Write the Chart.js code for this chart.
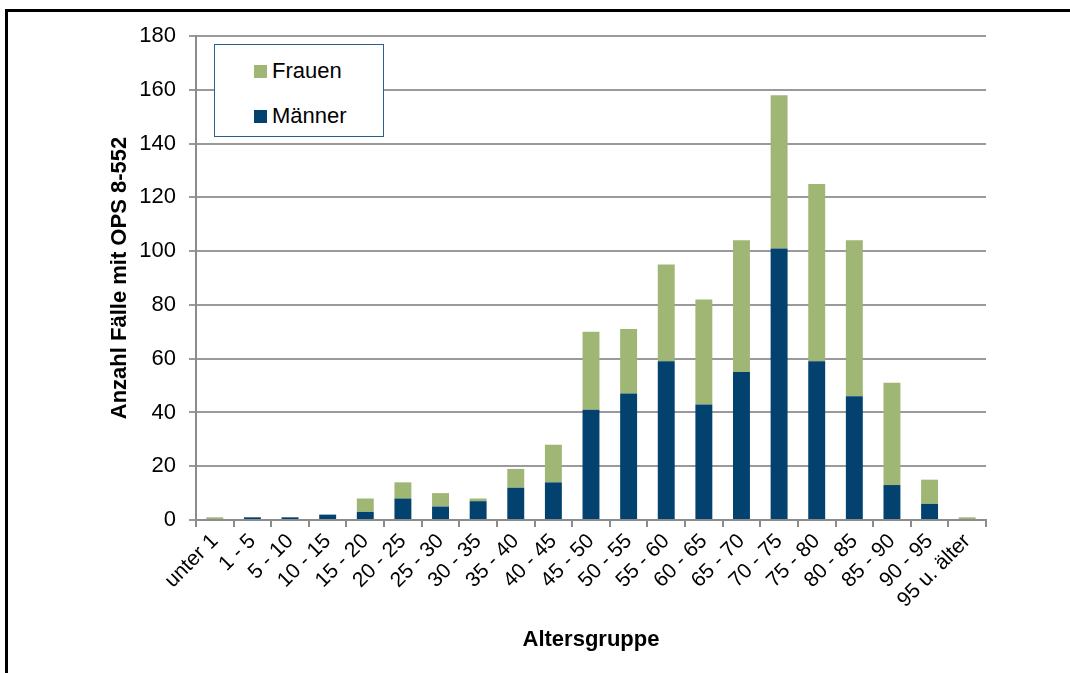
<!DOCTYPE html>
<html>
<head>
<meta charset="utf-8">
<script src="https://cdn.jsdelivr.net/npm/chart.js@4/dist/chart.umd.min.js"></script>
<style>
  html, body { margin: 0; padding: 0; background: #fff; }
  #wrap { position: relative; width: 1070px; height: 673px; overflow: hidden; }
  #frame { position: absolute; left: 5px; top: 9px; width: 2000px; height: 2000px;
           border-left: 3px solid #000; border-top: 3px solid #000; }
  #chart { position: absolute; left: 0; top: 0; }
  #legend { position: absolute; left: 214px; top: 44px; width: 168px; height: 91px;
            border: 1.5px solid #2b5f92; background: #fff;
            font-family: "Liberation Sans", Arial, sans-serif; font-size: 22px; color: #000; }
  .item { position: absolute; left: 39px; display: flex; align-items: center; height: 24px; }
  .swatch { width: 13px; height: 13px; margin-right: 5px; }
</style>
</head>
<body>
<div id="wrap">
  <div id="frame"></div>
  <canvas id="chart" width="1070" height="673"></canvas>
  <div id="legend"></div>
</div>
<script>
const ageGroups = ['unter 1', '1 - 5', '5 - 10', '10 - 15', '15 - 20', '20 - 25', '25 - 30',
  '30 - 35', '35 - 40', '40 - 45', '45 - 50', '50 - 55', '55 - 60', '60 - 65', '65 - 70',
  '70 - 75', '75 - 80', '80 - 85', '85 - 90', '90 - 95', '95 u. älter'];
const maenner = [0, 1, 1, 2, 3, 8, 5, 7, 12, 14, 41, 47, 59, 43, 55, 101, 59, 46, 13, 6, 0];
const frauen  = [1, 0, 0, 0, 5, 6, 5, 1, 7, 14, 29, 24, 36, 39, 49, 57, 66, 58, 38, 9, 1];

const FONT = '"Liberation Sans", Arial, sans-serif';
const axisGray = '#8c8c8c';

const ctx = document.getElementById('chart').getContext('2d');
const chart = new Chart(ctx, {
  type: 'bar',
  data: {
    labels: ageGroups,
    datasets: [
      { label: 'Männer', data: maenner, backgroundColor: '#03416f' },
      { label: 'Frauen', data: frauen, backgroundColor: '#9fb674' }
    ]
  },
  options: {
    responsive: false,
    animation: false,
    devicePixelRatio: 1,
    layout: { padding: { left: 0, right: 84, top: 36, bottom: 0 } },
    datasets: { bar: { categoryPercentage: 1, barPercentage: 0.45 } },
    plugins: { legend: { display: false }, tooltip: { enabled: false } },
    scales: {
      x: {
        stacked: true,
        afterFit: s => { s.height = 153; },
        grid: { drawOnChartArea: false, drawTicks: true, tickLength: 7, color: axisGray, lineWidth: 2 },
        border: { color: axisGray, width: 2 },
        ticks: { minRotation: 45, maxRotation: 45, autoSkip: false, padding: 2, color: '#000',
                 font: { family: FONT, size: 21 } },
        title: { display: true, text: 'Altersgruppe', color: '#000', padding: { bottom: 20 },
                 font: { family: FONT, size: 22, weight: 'bold' } }
      },
      y: {
        stacked: true,
        min: 0, max: 180,
        afterFit: s => { s.width = 196; },
        grid: { color: '#9a9a9a', lineWidth: 2, tickLength: 7 },
        border: { color: axisGray, width: 2 },
        ticks: { stepSize: 20, padding: 13, color: '#000', font: { family: FONT, size: 22 } },
        title: { display: true, text: 'Anzahl Fälle mit OPS 8-552', color: '#000', padding: { top: 107 },
                 font: { family: FONT, size: 22, weight: 'bold' } }
      }
    }
  }
});

// legend box built from the chart's datasets (Frauen on top)
const legendEl = document.getElementById('legend');
chart.data.datasets.slice().reverse().forEach((ds, i) => {
  const item = document.createElement('div');
  item.className = 'item';
  item.style.top = (14 + i * 45) + 'px';
  const sw = document.createElement('span');
  sw.className = 'swatch';
  sw.style.background = ds.backgroundColor;
  const txt = document.createElement('span');
  txt.textContent = ds.label;
  item.appendChild(sw);
  item.appendChild(txt);
  legendEl.appendChild(item);
});
</script>
</body>
</html>
